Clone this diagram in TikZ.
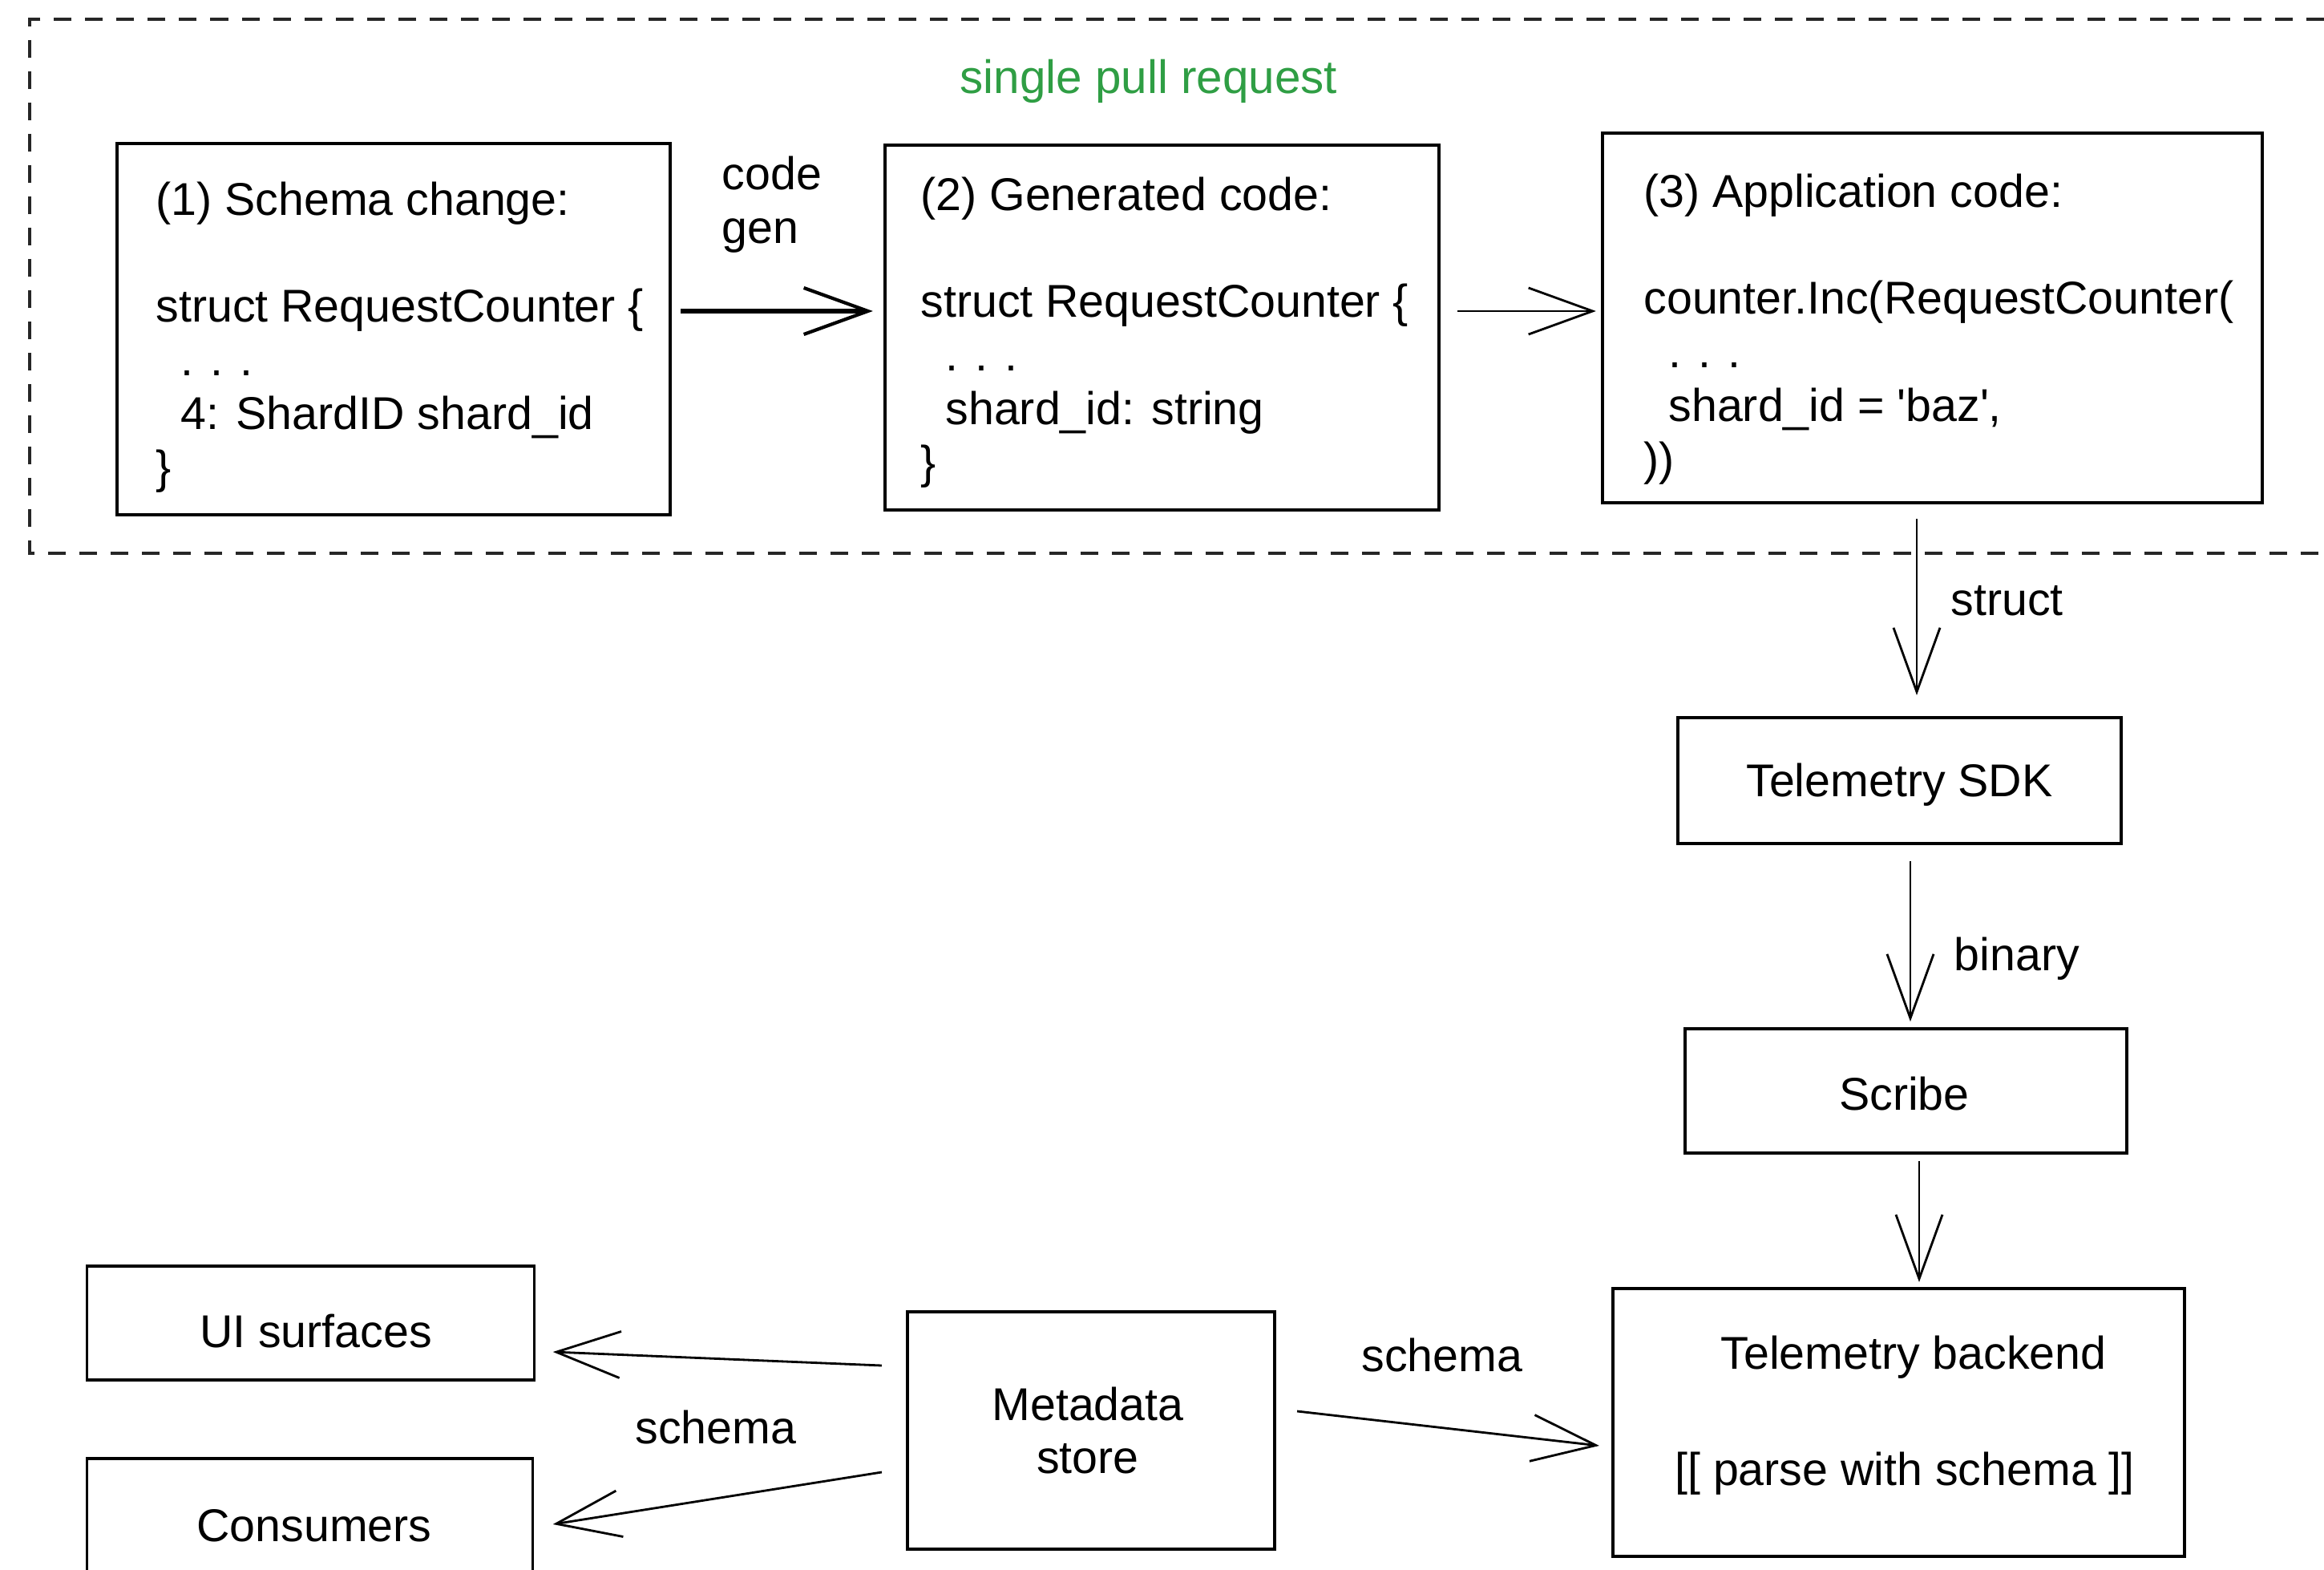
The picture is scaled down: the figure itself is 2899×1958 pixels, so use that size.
\documentclass[tikz,border=0pt]{standalone}
\usepackage{fontspec}
\setmainfont{Liberation Sans}
\usetikzlibrary{arrows.meta}
\definecolor{prgreen}{RGB}{47,158,68}
\tikzset{
  box/.style={draw=black, line width=1.1pt, rectangle, inner sep=0pt},
  txt/.style={inner sep=0pt, font=\fontsize{16.3}{19}\selectfont, align=left},
  lbl/.style={inner sep=0pt, font=\fontsize{16.3}{19}\selectfont},
  arr/.style={draw=black, line width=0.8pt, -{Straight Barb[length=0.8cm,width=0.58cm]}},
  thickarr/.style={draw=black, line width=1.6pt, -{Straight Barb[length=0.8cm,width=0.58cm,line width=1.2pt]}},
  prframe/.style={draw=black!85, line width=1.1pt, dash pattern=on 0.22cm off 0.17cm}
}
\newcommand{\ind}{\hspace*{0.31cm}}
\begin{document}
\begin{tikzpicture}[x=0.01cm,y=-0.01cm]
\useasboundingbox (0,0) rectangle (2899,1958);
% dashed frame (right side outside the picture)
\draw[prframe] (2899,24) -- (37,24) -- (37,690) -- (2899,690);
\node[lbl, text=prgreen, font=\fontsize{16.6}{20}\selectfont] (pr) at (1433,101) {single pull request};

% boxes
\node[box, minimum width=6.90cm, minimum height=4.63cm] (b1) at (491,410.5) {};
\node[box, minimum width=6.91cm, minimum height=4.55cm] (b2) at (1449.5,408.5) {};
\node[box, minimum width=8.23cm, minimum height=4.61cm] (b3) at (2410.5,396.5) {};
\node[box, minimum width=5.53cm, minimum height=1.57cm] (sdk) at (2369.5,973.5) {};
\node[box, minimum width=5.51cm, minimum height=1.55cm] (scribe) at (2377.5,1360.5) {};
\node[box, minimum width=7.13cm, minimum height=3.34cm] (backend) at (2368.5,1774) {};
\node[box, minimum width=4.58cm, minimum height=2.96cm] (meta) at (1361,1784) {};
\node[box, line width=0.9pt, minimum width=5.57cm, minimum height=1.42cm] (ui) at (387.5,1650) {};
\node[box, line width=0.9pt, minimum width=5.55cm, minimum height=1.42cm] (cons) at (386.5,1890) {};

% box texts
\node[txt, anchor=west] (t1) at ([shift={(50,10)}]b1.west) {(1) Schema change:\\[19pt]
struct RequestCounter \{\\
\ind . . .\\
\ind 4: ShardID shard\_id\\
\}};
\node[txt, anchor=west] (t2) at ([shift={(46,6)}]b2.west) {(2) Generated code:\\[19pt]
struct RequestCounter \{\\
\ind . . .\\
\ind shard\_id: string\\
\}};
\node[txt, anchor=west] (t3) at ([shift={(53,14)}]b3.west) {(3) Application code:\\[19pt]
counter.Inc(RequestCounter(\\
\ind . . .\\
\ind shard\_id = \textquotesingle baz\textquotesingle,\\
))};
\node[lbl] (tsdk) at ([shift={(0,5)}]sdk.center) {Telemetry SDK};
\node[lbl] (tscribe) at ([shift={(-2,4)}]scribe.center) {Scribe};
\node[lbl] (tb1) at (2387,1693) {Telemetry backend};
\node[lbl] (tb2) at (2376,1838) {[[ parse with schema ]]};
\node[txt, align=center] (tm) at (1357,1784) {Metadata\\store};
\node[lbl] (tui) at (394,1660) {UI surfaces};
\node[lbl] (tcons) at (392,1903) {Consumers};

% connector labels
\node[txt, anchor=west] (lcg) at (900,255) {code\\gen};
\node[lbl, anchor=west] (lstruct) at (2433,749) {struct};
\node[lbl, anchor=west] (lbin) at (2437,1196) {binary};
\node[lbl] (lsch1) at (893,1780) {schema};
\node[lbl] (lsch2) at (1799,1690) {schema};

% connectors
\draw[thickarr] ([shift={(11,-22.5)}]b1.east) -- ([shift={(-13,-20.5)}]b2.west);
\draw[arr] ([shift={(21,-20.5)}]b2.east) -- ([shift={(-6,-8.5)}]b3.west);
\draw[arr] ([shift={(-19.5,18)}]b3.south) -- ([shift={(21.5,-26)}]sdk.north);
\draw[arr] ([shift={(13.5,20)}]sdk.south) -- ([shift={(5.5,-7)}]scribe.north);
\draw[arr] ([shift={(16.5,8)}]scribe.south) -- ([shift={(25.5,-6)}]backend.north);
\draw[arr] ([shift={(-30,-81)}]meta.west) -- ([shift={(22,36)}]ui.east);
\draw[arr] ([shift={(-30,52)}]meta.west) -- ([shift={(24,11)}]cons.east);
\draw[arr] ([shift={(26,-24)}]meta.east) -- ([shift={(-15,29)}]backend.west);
\end{tikzpicture}
\end{document}
